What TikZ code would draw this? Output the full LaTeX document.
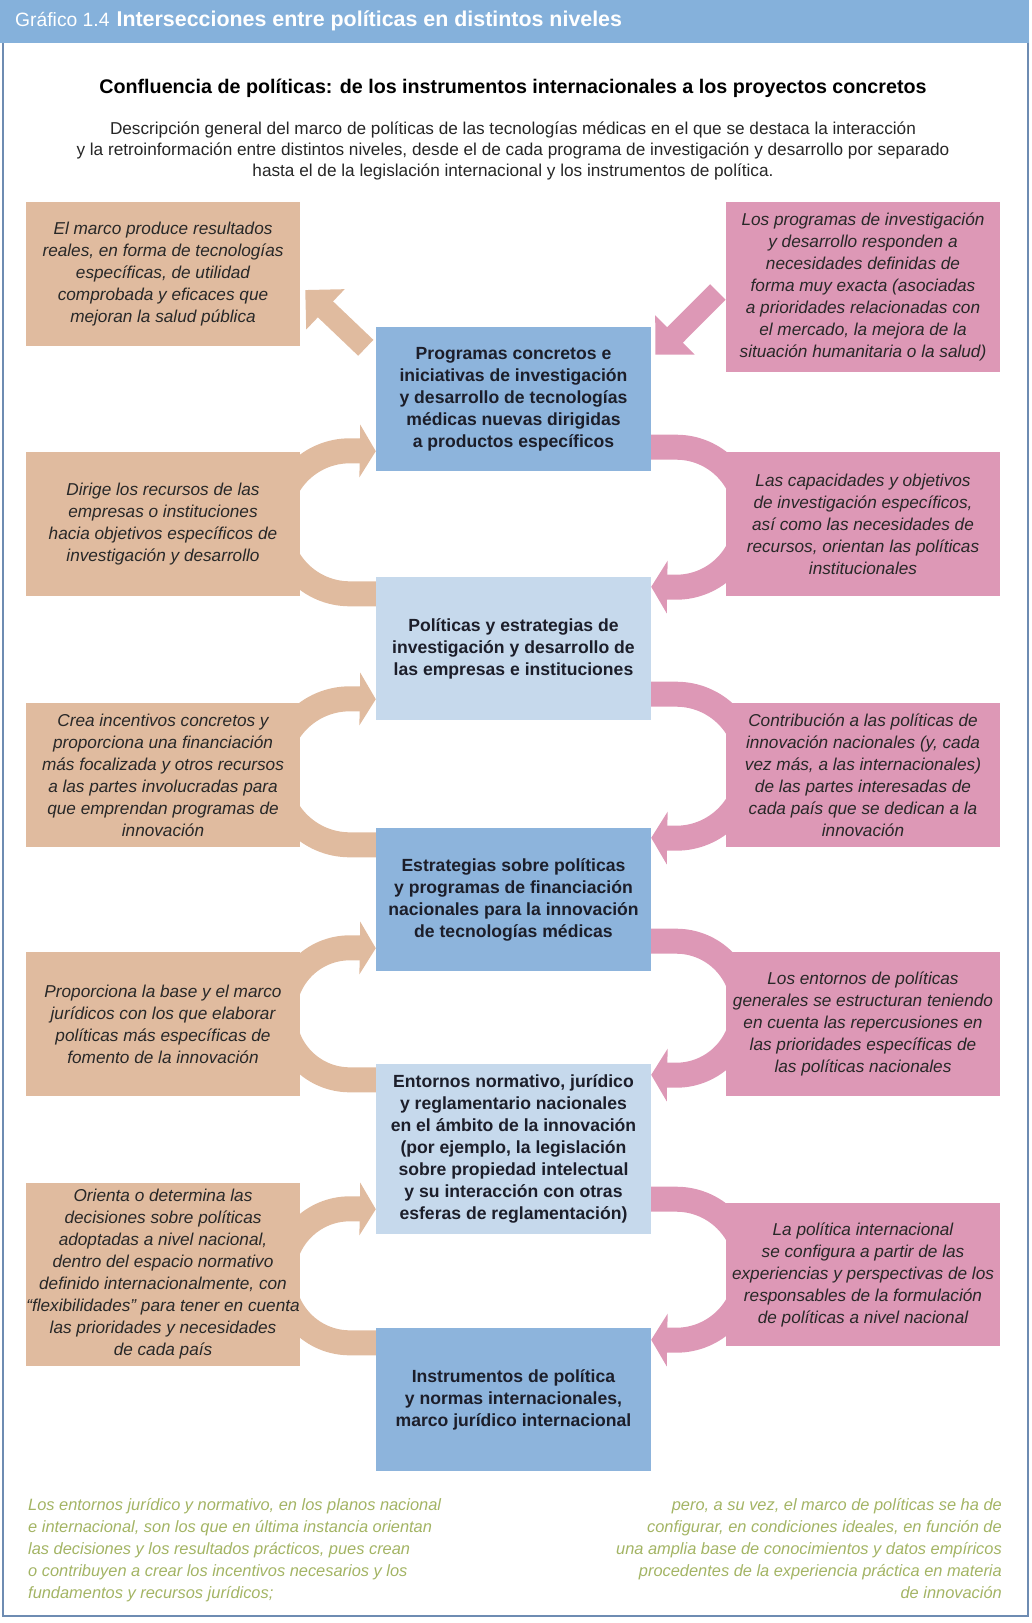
\documentclass[tikz,border=0pt]{standalone}
\usepackage{fontspec}
\setmainfont{Liberation Sans}
\usetikzlibrary{positioning,arrows.meta,backgrounds}

\definecolor{hdrblue}{RGB}{133,177,219}
\definecolor{midblue}{RGB}{141,180,220}
\definecolor{paleblue}{RGB}{198,217,236}
\definecolor{tanbox}{RGB}{224,187,159}
\definecolor{pinkbox}{RGB}{221,152,182}
\definecolor{olivetxt}{RGB}{163,180,100}
\definecolor{framecol}{RGB}{110,140,178}
\definecolor{navytxt}{RGB}{28,30,42}
\definecolor{sidetxt}{RGB}{40,40,40}

\begin{document}
\begin{tikzpicture}[x=1pt, y=-1pt,
    midbox/.style={minimum width=275pt, inner sep=0pt, align=center, text=navytxt, font=\fontsize{17.6}{22}\selectfont\bfseries},
    leftbox/.style={fill=tanbox, minimum width=274pt, inner sep=0pt, align=center, text=sidetxt, font=\fontsize{17.2}{22}\selectfont\itshape},
    rightbox/.style={leftbox, fill=pinkbox},
    tanarr/.style={draw=tanbox, line width=25pt, -{Triangle[length=16pt,width=52pt]}},
    pinkarr/.style={tanarr, draw=pinkbox},
    diagarr/.style={line width=22pt, -{Triangle[length=28pt,width=54pt]}},
    greentxt/.style={inner sep=0pt, text=olivetxt, font=\fontsize{16.4}{22}\selectfont\itshape}
]
    \useasboundingbox (0,0) rectangle (1032,1623);

    % --- Frame and heading ---
    \draw[framecol, line width=1.2pt] (3,0) rectangle (1028,1616);
    \fill[hdrblue] (0,0) rectangle (1028.6,43);
    \node[anchor=west, inner sep=0pt, text=white, font=\fontsize{19.3}{24}\selectfont] (titulo) at (15,21)
        {Gráfico 1.4\hspace{7pt}{\fontsize{21.4}{24}\selectfont\bfseries Intersecciones entre políticas en distintos niveles}};
    \node[font=\fontsize{19.7}{24}\selectfont\bfseries, text=black] (subtit) at (513,88)
        {Confluencia de políticas: de los instrumentos internacionales a los proyectos concretos};
    \node[font=\fontsize{17.2}{21}\selectfont, align=center, text=black!85] (descr) at (513,151)
        {Descripción general del marco de políticas de las tecnologías médicas en el que se destaca la interacción\\
         y la retroinformación entre distintos niveles, desde el de cada programa de investigación y desarrollo por separado\\
         hasta el de la legislación internacional y los instrumentos de política.};

    % --- Central levels ---
    \node[midbox, fill=midblue, minimum height=144pt] (prog) at (513.5,399)
        {Programas concretos e\\iniciativas de investigación\\y desarrollo de tecnologías\\médicas nuevas dirigidas\\a productos específicos};
    \node[midbox, fill=paleblue, minimum height=143pt] (empr) at (513.5,648.5)
        {Políticas y estrategias de\\investigación y desarrollo de\\las empresas e instituciones};
    \node[midbox, fill=midblue, minimum height=143pt] (estr) at (513.5,899.5)
        {Estrategias sobre políticas\\y programas de financiación\\nacionales para la innovación\\de tecnologías médicas};
    \node[midbox, fill=paleblue, minimum height=170pt] (entor) at (513.5,1149)
        {Entornos normativo, jurídico\\y reglamentario nacionales\\en el ámbito de la innovación\\(por ejemplo, la legislación\\sobre propiedad intelectual\\y su interacción con otras\\esferas de reglamentación)};
    \node[midbox, fill=midblue, minimum height=143pt] (instr) at (513.5,1399.5)
        {Instrumentos de política\\y normas internacionales,\\marco jurídico internacional};

    % --- Left column ---
    \node[leftbox, minimum height=144pt] (resul) at (163,274)
        {El marco produce resultados\\reales, en forma de tecnologías\\específicas, de utilidad\\comprobada y eficaces que\\mejoran la salud pública};
    \node[leftbox, minimum height=144pt] (dirige) at (163,524)
        {Dirige los recursos de las\\empresas o instituciones\\hacia objetivos específicos de\\investigación y desarrollo};
    \node[leftbox, minimum height=144pt] (crea) at (163,775)
        {Crea incentivos concretos y\\proporciona una financiación\\más focalizada y otros recursos\\a las partes involucradas para\\que emprendan programas de\\innovación};
    \node[leftbox, minimum height=144pt] (propor) at (163,1024)
        {Proporciona la base y el marco\\jurídicos con los que elaborar\\políticas más específicas de\\fomento de la innovación};
    \node[leftbox, minimum height=183pt] (orienta) at (163,1274.5)
        {Orienta o determina las\\decisiones sobre políticas\\adoptadas a nivel nacional,\\dentro del espacio normativo\\definido internacionalmente, con\\“flexibilidades” para tener en cuenta\\las prioridades y necesidades\\de cada país};

    % --- Right column ---
    \node[rightbox, minimum height=170pt] (necesid) at (863,287)
        {Los programas de investigación\\y desarrollo responden a\\necesidades definidas de\\forma muy exacta (asociadas\\a prioridades relacionadas con\\el mercado, la mejora de la\\situación humanitaria o la salud)};
    \node[rightbox, minimum height=144pt] (capac) at (863,524)
        {Las capacidades y objetivos\\de investigación específicos,\\así como las necesidades de\\recursos, orientan las políticas\\institucionales};
    \node[rightbox, minimum height=144pt] (contrib) at (863,775)
        {Contribución a las políticas de\\innovación nacionales (y, cada\\vez más, a las internacionales)\\de las partes interesadas de\\cada país que se dedican a la\\innovación};
    \node[rightbox, minimum height=144pt] (entornos) at (863,1024)
        {Los entornos de políticas\\generales se estructuran teniendo\\en cuenta las repercusiones en\\las prioridades específicas de\\las políticas nacionales};
    \node[rightbox, minimum height=143pt] (intern) at (863,1274.5)
        {La política internacional\\se configura a partir de las\\experiencias y perspectivas de los\\responsables de la formulación\\de políticas a nivel nacional};

    % --- Closing remarks ---
    \node[greentxt, anchor=north west, align=left] (notaizq) at (28,1498)
        {Los entornos jurídico y normativo, en los planos nacional\\e internacional, son los que en última instancia orientan\\las decisiones y los resultados prácticos, pues crean\\o contribuyen a crear los incentivos necesarios y los\\fundamentos y recursos jurídicos;};
    \node[greentxt, anchor=north east, align=right] (notader) at (1002,1498)
        {pero, a su vez, el marco de políticas se ha de\\configurar, en condiciones ideales, en función de\\una amplia base de conocimientos y datos empíricos\\procedentes de la experiencia práctica en materia\\de innovación};

    % --- Feedback arrows (behind the boxes) ---
    \begin{scope}[on background layer]
        \draw[diagarr, tanbox] ([shift={(-10,21)}]prog.north west) -- ([shift={(5,16)}]resul.east);
        \draw[diagarr, pinkbox] ([shift={(-8,5)}]necesid.west) -- ([shift={(4,28)}]prog.north east);

        \draw[tanarr] ([shift={(0,17)}]empr.north west) -- ++(-26,0) arc[start angle=90, end angle=270, radius=71.5] -- ([shift={(0,-20)}]prog.south west);
        \draw[tanarr] ([shift={(0,17)}]estr.north west) -- ++(-26,0) arc[start angle=90, end angle=270, radius=73] -- ([shift={(0,-21)}]empr.south west);
        \draw[tanarr] ([shift={(0,16)}]entor.north west) -- ++(-26,0) arc[start angle=90, end angle=270, radius=66] -- ([shift={(0,-23)}]estr.south west);
        \draw[tanarr] ([shift={(0,15)}]instr.north west) -- ++(-26,0) arc[start angle=90, end angle=270, radius=67] -- ([shift={(0,-25)}]entor.south west);

        \draw[pinkarr] ([shift={(0,-24)}]prog.south east) -- ++(25,0) arc[start angle=-90, end angle=90, radius=70] -- ([shift={(0,10)}]empr.north east);
        \draw[pinkarr] ([shift={(0,-26)}]empr.south east) -- ++(25,0) arc[start angle=-90, end angle=90, radius=72] -- ([shift={(0,10)}]estr.north east);
        \draw[pinkarr] ([shift={(0,-30)}]estr.south east) -- ++(25,0) arc[start angle=-90, end angle=90, radius=67] -- ([shift={(0,11)}]entor.north east);
        \draw[pinkarr] ([shift={(0,-35)}]entor.south east) -- ++(25,0) arc[start angle=-90, end angle=90, radius=70.5] -- ([shift={(0,12)}]instr.north east);
    \end{scope}
\end{tikzpicture}
\end{document}
